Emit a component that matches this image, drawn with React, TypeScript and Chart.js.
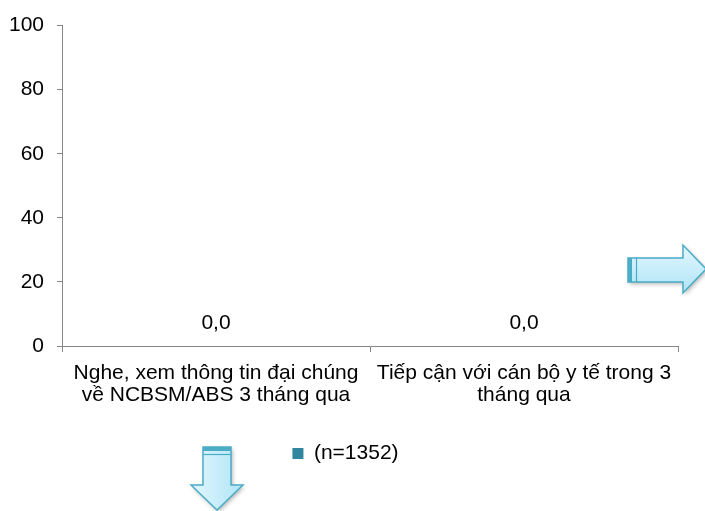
import React, { useEffect, useRef } from "react";
import { Chart, registerables } from "chart.js";

Chart.register(...registerables);

const categories: string[][] = [
  ["Nghe, xem thông tin đại chúng", "về NCBSM/ABS 3 tháng qua"],
  ["Tiếp cận với cán bộ y tế trong 3", "tháng qua"],
];
const seriesLabel = "(n=1352)";
const seriesValues: number[] = [0, 0];
const yTicks: number[] = [0, 20, 40, 60, 80, 100];

const FONT = '"Liberation Sans", Arial, sans-serif';
const AXIS = "#868686";
const TEAL = "#31859C";

const dataLabelPlugin = {
  id: "dataLabels",
  afterDatasetsDraw(chart: any) {
    const ctx = chart.ctx;
    ctx.save();
    ctx.font = `21px ${FONT}`;
    ctx.fillStyle = "#000";
    ctx.textAlign = "center";
    ctx.textBaseline = "middle";
    chart.data.datasets.forEach((ds: any, di: number) => {
      const meta = chart.getDatasetMeta(di);
      meta.data.forEach((bar: any, i: number) => {
        const v = ds.data[i] as number;
        ctx.fillText(v.toFixed(1).replace(".", ","), bar.x, bar.y - 23);
      });
    });
    ctx.restore();
  },
};

function drawArrowShape(ctx: CanvasRenderingContext2D, pts: number[][], gx0: number, gy0: number, gx1: number, gy1: number) {
  ctx.save();
  ctx.beginPath();
  pts.forEach((p, i) => (i === 0 ? ctx.moveTo(p[0], p[1]) : ctx.lineTo(p[0], p[1])));
  ctx.closePath();
  const g = ctx.createLinearGradient(gx0, gy0, gx1, gy1);
  g.addColorStop(0, "#E2F7FF");
  g.addColorStop(1, "#B0E4F6");
  ctx.shadowColor = "rgba(0,0,0,0.3)";
  ctx.shadowBlur = 4;
  ctx.shadowOffsetX = 1.5;
  ctx.shadowOffsetY = 2;
  ctx.fillStyle = g;
  ctx.fill();
  ctx.shadowColor = "transparent";
  ctx.strokeStyle = "#4BACC6";
  ctx.lineWidth = 1.5;
  ctx.stroke();
  ctx.restore();
}

const arrowsPlugin = {
  id: "arrows",
  afterDraw(chart: any) {
    const ctx: CanvasRenderingContext2D = chart.ctx;
    // right arrow
    drawArrowShape(
      ctx,
      [[628, 258], [683, 258], [683, 245], [706, 269], [683, 293], [683, 282], [628, 282]],
      0, 245, 0, 293
    );
    ctx.save();
    ctx.fillStyle = "#4BACC6";
    ctx.fillRect(628, 258, 4, 24);
    ctx.strokeStyle = "#4BACC6";
    ctx.lineWidth = 1.2;
    ctx.beginPath();
    ctx.moveTo(636.5, 258);
    ctx.lineTo(636.5, 282);
    ctx.stroke();
    ctx.restore();
    // down arrow
    drawArrowShape(
      ctx,
      [[203, 447], [231, 447], [231, 485], [243, 485], [217, 510], [191, 485], [203, 485]],
      191, 0, 243, 0
    );
    ctx.save();
    ctx.fillStyle = "#4BACC6";
    ctx.fillRect(203, 447, 28, 4);
    ctx.strokeStyle = "#4BACC6";
    ctx.lineWidth = 1.2;
    ctx.beginPath();
    ctx.moveTo(203, 454.5);
    ctx.lineTo(231, 454.5);
    ctx.stroke();
    ctx.restore();
  },
};

export default function App() {
  const ref = useRef<HTMLCanvasElement | null>(null);

  useEffect(() => {
    document.body.style.margin = "0";
    if (!ref.current) return;
    Chart.defaults.font.family = FONT;
    const chart = new Chart(ref.current, {
      type: "bar",
      data: {
        labels: categories,
        datasets: [
          {
            label: seriesLabel,
            data: seriesValues,
            backgroundColor: TEAL,
            borderWidth: 0,
          },
        ],
      },
      options: {
        animation: false,
        responsive: false,
        maintainAspectRatio: false,
        layout: { padding: { left: 0, right: 14, top: 22, bottom: 37 } },
        plugins: {
          tooltip: { enabled: false },
          legend: {
            position: "bottom",
            labels: {
              boxWidth: 11,
              boxHeight: 11,
              color: "#000",
              font: { size: 21, family: FONT },
              padding: 10,
            },
          },
        },
        scales: {
          x: {
            grid: { drawOnChartArea: false, tickLength: 6, color: AXIS, offset: true },
            border: { color: AXIS, width: 1 },
            ticks: {
              color: "#000",
              font: { size: 21, family: FONT, lineHeight: 1.05 },
              padding: 10,
              maxRotation: 0,
              autoSkip: false,
            },
            afterFit(scale: any) {
              scale.height = 87;
            },
          },
          y: {
            min: 0,
            max: 100,
            afterBuildTicks(scale: any) {
              scale.ticks = yTicks.map((v) => ({ value: v }));
            },
            grid: { drawOnChartArea: false, tickLength: 5, color: AXIS },
            border: { color: AXIS, width: 1 },
            ticks: {
              color: "#000",
              font: { size: 21, family: FONT },
              padding: 13,
            },
            afterFit(scale: any) {
              scale.width = 62;
            },
          },
          y2: {
            position: "right",
            display: true,
            grid: { display: false },
            border: { display: false },
            ticks: { display: false },
            afterFit(scale: any) {
              scale.width = 13;
            },
          },
        },
      },
      plugins: [dataLabelPlugin, arrowsPlugin],
    } as any);
    return () => chart.destroy();
  }, []);

  return (
    <div style={{ width: 705, height: 511, position: "relative" }}>
      <canvas ref={ref} width={705} height={511} style={{ width: 705, height: 511, display: "block" }} />
    </div>
  );
}
